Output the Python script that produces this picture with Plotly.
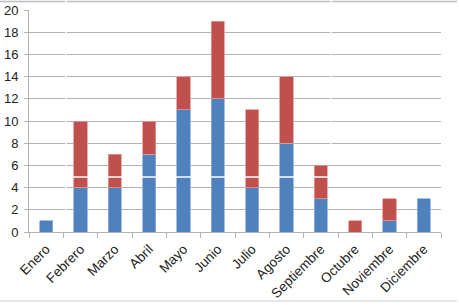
import plotly.graph_objects as go

months = ["Enero", "Febrero", "Marzo", "Abril", "Mayo", "Junio", "Julio",
          "Agosto", "Septiembre", "Octubre", "Noviembre", "Diciembre"]
blue_vals = [1, 4, 4, 7, 11, 12, 4, 8, 3, 0, 1, 3]
red_vals = [0, 6, 3, 3, 3, 7, 7, 6, 3, 1, 2, 0]
y_ticks = [0, 2, 4, 6, 8, 10, 12, 14, 16, 18, 20]

BLUE = "#4F81BD"
RED = "#C0504D"
GRID = "#b3b3b3"
FONT = dict(family="Liberation Sans", size=13, color="#222222")
XFONT = dict(family="Liberation Sans", size=13.5, color="#222222")

fig = go.Figure()
fig.add_bar(x=months, y=blue_vals,
            marker=dict(color=BLUE, line=dict(color="#8fb0dc", width=[0.8 if v > 0 else 0 for v in blue_vals])))
fig.add_bar(x=months, y=red_vals,
            marker=dict(color=RED, line=dict(color="#e49a98", width=[0.8 if v > 0 else 0 for v in red_vals])))

W, H = 459, 305
L, R, T, B = 29, 18, 10, 73
pw, ph = W - L - R, H - T - B

def px(x):
    return (x - L) / pw

def py(y):
    return (H - B - y) / ph

shapes = [
    dict(type="line", xref="paper", yref="paper", x0=px(0), x1=px(457), y0=py(1.5), y1=py(1.5),
         line=dict(color="#bdbdbd", width=1.5)),
    dict(type="line", xref="paper", yref="paper", x0=px(0), x1=px(457), y0=py(301), y1=py(301),
         line=dict(color="#d0d0d0", width=1)),
    dict(type="line", xref="paper", yref="paper", x0=px(30), x1=px(457), y0=py(177), y1=py(177),
         line=dict(color="white", width=1.5), layer="above"),
    dict(type="line", xref="paper", yref="paper", x0=px(66), x1=px(66), y0=py(0), y1=py(231),
         line=dict(color="white", width=1.5), layer="above"),
    dict(type="line", xref="paper", yref="paper", x0=px(331), x1=px(331), y0=py(0), y1=py(150),
         line=dict(color="white", width=1.5), layer="above"),
]

fig.update_layout(
    barmode="stack",
    bargap=0.62,
    width=W, height=H,
    margin=dict(l=L, r=R, t=T, b=B, autoexpand=False),
    paper_bgcolor="white", plot_bgcolor="white",
    showlegend=False,
    font=FONT,
    shapes=shapes,
    xaxis=dict(
        tickangle=-45, showline=True, linecolor=GRID, linewidth=1,
        ticks="outside", tickson="boundaries", ticklen=5, tickcolor=GRID,
        showgrid=False, tickfont=XFONT, automargin=False, ticklabelstandoff=3,
    ),
    yaxis=dict(
        range=[0, 20], tickvals=y_ticks, showgrid=True, gridcolor=GRID, gridwidth=1,
        showline=True, linecolor=GRID, linewidth=1, ticks="outside", ticklen=4,
        tickcolor=GRID, tickfont=FONT, zeroline=False, ticklabelstandoff=3,
        automargin=False,
    ),
)

fig.write_html("out.html", config={"displayModeBar": False},
               post_script="document.body.style.margin='0';")
